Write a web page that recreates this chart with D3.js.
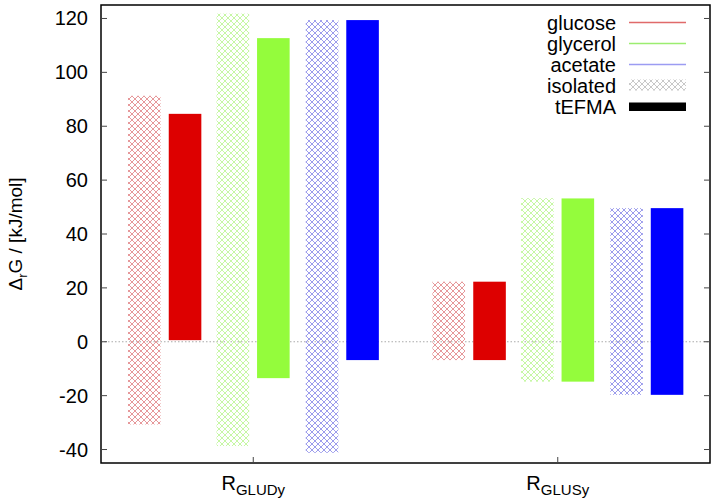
<!DOCTYPE html>
<html>
<head>
<meta charset="utf-8">
<script src="https://cdn.jsdelivr.net/npm/d3@7"></script>
<style>
  body { margin: 0; background: #fff; }
  text { font-family: "Liberation Sans", Arial, sans-serif; }
</style>
</head>
<body>
<svg id="chart" width="716" height="504"></svg>
<script>
// reactions on the x axis
let reactions = ['GLUDy', 'GLUSy']
let substrates = ['glucose', 'glycerol', 'acetate']
let methods = ['isolated', 'tEFMA']
// [min, max] of Delta_r G per reaction, substrate, method
let glucoseIsolated = [[-30.7, 91.3], [-6.8, 22.3]]
let glucoseTefma = [[0.6, 84.6], [-6.8, 22.3]]
let glycerolIsolated = [[-38.7, 121.8], [-14.8, 53.3]]
let glycerolTefma = [[-13.5, 112.7], [-14.8, 53.2]]
let acetateIsolated = [[-41.2, 119.4], [-19.7, 49.6]]
let acetateTefma = [[-6.8, 119.4], [-19.7, 49.6]]
let yTicks = [-40, -20, 0, 20, 40, 60, 80, 100, 120]

let series = [
  { sub: 'glucose', method: 'isolated', vals: glucoseIsolated },
  { sub: 'glucose', method: 'tEFMA', vals: glucoseTefma },
  { sub: 'glycerol', method: 'isolated', vals: glycerolIsolated },
  { sub: 'glycerol', method: 'tEFMA', vals: glycerolTefma },
  { sub: 'acetate', method: 'isolated', vals: acetateIsolated },
  { sub: 'acetate', method: 'tEFMA', vals: acetateTefma }
]

let solid = { glucose: '#dd0000', glycerol: '#94fc3c', acetate: '#0000ff' }
let hatch = { glucose: '#e6989a', glycerol: '#c6f7a4', acetate: '#9c9cec', grey: '#c8c8c8' }
let legendLine = { glucose: '#e06a6a', glycerol: '#9ced70', acetate: '#9c9cf2' }

let svg = d3.select('#chart')
let margin = { left: 101, right: 6, top: 5, bottom: 41 }
let W = 716, H = 504

let x = d3.scaleLinear().domain([-0.5, 1.5]).range([margin.left, W - margin.right])
let y = d3.scaleLinear().domain([-45, 125]).range([H - margin.bottom, margin.top])

// bar offsets within a group (in x units)
let offsets = [-0.358, -0.224, -0.067, 0.066, 0.226, 0.359]
let barW = 0.107

// hatch patterns
let defs = svg.append('defs')
Object.keys(hatch).forEach(k => {
  let p = defs.append('pattern')
    .attr('id', 'hatch-' + k)
    .attr('patternUnits', 'userSpaceOnUse')
    .attr('width', 6).attr('height', 6)
  p.append('path').attr('d', 'M0,0 L6,6 M6,0 L0,6 M-1,5 L1,7 M5,-1 L7,1 M-1,1 L1,-1 M5,7 L7,5')
    .attr('stroke', hatch[k]).attr('stroke-width', 1).attr('fill', 'none')
})

// zero line
svg.append('line')
  .attr('x1', x(-0.5)).attr('x2', x(1.5))
  .attr('y1', y(0)).attr('y2', y(0))
  .attr('stroke', '#aaa').attr('stroke-width', 1)
  .attr('stroke-dasharray', '1.5,2')

// bars
series.forEach((s, i) => {
  svg.append('g').selectAll('rect')
    .data(s.vals)
    .join('rect')
    .attr('x', (d, j) => x(j + offsets[i] - barW / 2))
    .attr('width', x(barW) - x(0))
    .attr('y', d => y(d[1]))
    .attr('height', d => y(d[0]) - y(d[1]))
    .attr('fill', s.method == 'isolated' ? 'url(#hatch-' + s.sub + ')' : solid[s.sub])
})

// frame
svg.append('rect')
  .attr('x', x(-0.5)).attr('y', y(125))
  .attr('width', x(1.5) - x(-0.5)).attr('height', y(-45) - y(125))
  .attr('fill', 'none').attr('stroke', '#000').attr('stroke-width', 1.5)

// y ticks, left and right
let yt = svg.append('g')
yTicks.forEach(t => {
  yt.append('line').attr('x1', x(-0.5)).attr('x2', x(-0.5) + 6)
    .attr('y1', y(t)).attr('y2', y(t)).attr('stroke', '#444')
  yt.append('line').attr('x1', x(1.5)).attr('x2', x(1.5) - 6)
    .attr('y1', y(t)).attr('y2', y(t)).attr('stroke', '#444')
  yt.append('text')
    .attr('x', x(-0.5) - 13).attr('y', y(t) + 7)
    .attr('text-anchor', 'end').attr('font-size', 20)
    .text(t)
})

// x ticks and labels
reactions.forEach((r, j) => {
  svg.append('line').attr('x1', x(j)).attr('x2', x(j))
    .attr('y1', y(-45)).attr('y2', y(-45) - 6).attr('stroke', '#444')
  let t = svg.append('text')
    .attr('x', x(j)).attr('y', 490)
    .attr('text-anchor', 'middle').attr('font-size', 20)
  t.append('tspan').text('R')
  t.append('tspan').attr('dy', 5).attr('font-size', 15).text(r)
})

// y axis label
let yl = svg.append('text')
  .attr('transform', 'translate(22,' + (y(40)) + ') rotate(-90)')
  .attr('text-anchor', 'middle').attr('font-size', 19)
yl.append('tspan').text('Δ')
yl.append('tspan').attr('dy', 5).attr('font-size', 13).text('r')
yl.append('tspan').attr('dy', -5).text('G / [kJ/mol]')

// legend
let legendItems = substrates.map(s => ({ label: s, type: 'line', key: s }))
  .concat([{ label: 'isolated', type: 'hatch' }, { label: 'tEFMA', type: 'box' }])
let lg = svg.append('g')
legendItems.forEach((it, i) => {
  let cy = 22.5 + i * 21
  lg.append('text')
    .attr('x', 616).attr('y', cy + 7)
    .attr('text-anchor', 'end').attr('font-size', 20)
    .text(it.label)
  if (it.type == 'line') {
    lg.append('line').attr('x1', 629).attr('x2', 686)
      .attr('y1', cy).attr('y2', cy)
      .attr('stroke', legendLine[it.key]).attr('stroke-width', 1.5)
  } else if (it.type == 'hatch') {
    lg.append('rect').attr('x', 629).attr('y', cy - 6).attr('width', 57).attr('height', 11)
      .attr('fill', 'url(#hatch-grey)')
  } else {
    lg.append('rect').attr('x', 629).attr('y', cy - 4).attr('width', 57).attr('height', 8.5)
      .attr('fill', '#000')
  }
})
</script>
</body>
</html>
